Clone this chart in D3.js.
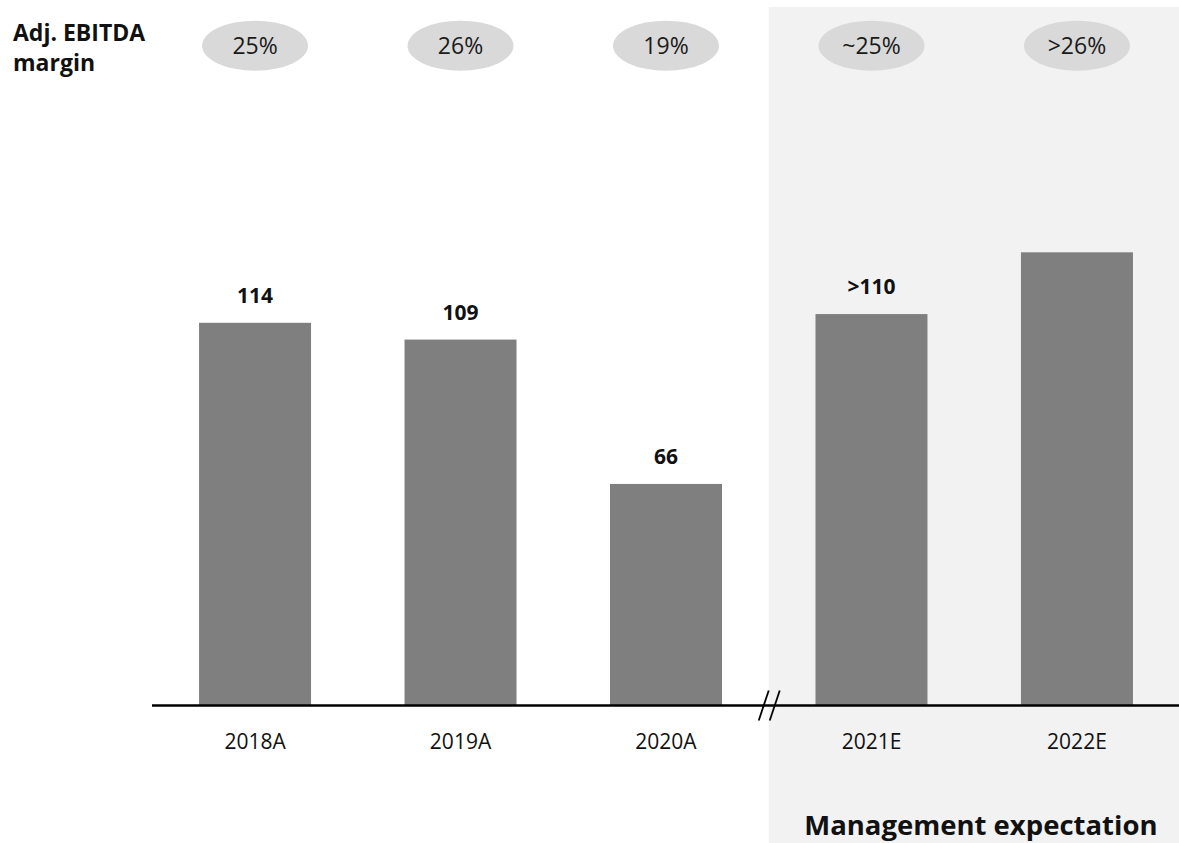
<!DOCTYPE html>
<html>
<head>
<meta charset="utf-8">
<script src="https://cdn.jsdelivr.net/npm/d3@7"></script>
<style>
  body { margin: 0; background: #fff; }
  svg { display: block; font-family: "Open Sans", sans-serif; }
</style>
</head>
<body>
<svg id="chart" width="1179" height="843"></svg>
<script>
// data
var years = ["2018A", "2019A", "2020A", "2021E", "2022E"];
var ebitda = [114, 109, 66, 116.6, 135];
var barLabels = ["114", "109", "66", ">110", ""];
var margins = ["25%", "26%", "19%", "~25%", ">26%"];
var forecastFrom = "2021E";

var svg = d3.select("#chart"),
  width = 1179,
  height = 843;

var x = d3.scaleBand()
  .domain(years)
  .range([152, 1180])
  .paddingInner(0.455)
  .paddingOuter(0.229);

var y = d3.scaleLinear()
  .domain([0, 135])
  .range([705.5, 252.3]);

// break position between actuals and estimates
var iF = years.indexOf(forecastFrom);
var breakX = (x(years[iF - 1]) + x.bandwidth() + x(years[iF])) / 2;

// shaded forecast area
svg.append("rect")
  .attr("x", breakX)
  .attr("y", 7)
  .attr("width", width - breakX)
  .attr("height", height - 7)
  .attr("fill", "#f2f2f2");

// margin row
svg.append("text")
  .attr("x", 13)
  .attr("y", 41)
  .attr("font-weight", "bold")
  .attr("font-size", 23)
  .attr("fill", "#111")
  .selectAll("tspan")
  .data(["Adj. EBITDA", "margin"])
  .enter().append("tspan")
  .attr("x", 13)
  .attr("dy", function (d, i) { return i ? 30 : 0; })
  .text(function (d) { return d; });

var pill = svg.append("g").selectAll("g")
  .data(margins)
  .enter().append("g")
  .attr("transform", function (d, i) { return "translate(" + (x(years[i]) + x.bandwidth() / 2) + ",45.7)"; });

pill.append("ellipse")
  .attr("rx", 53)
  .attr("ry", 25)
  .attr("fill", "#d9d9d9");

pill.append("text")
  .attr("y", 8)
  .attr("text-anchor", "middle")
  .attr("font-size", 23)
  .attr("fill", "#1a1a1a")
  .text(function (d) { return d; });

// bars
svg.append("g").selectAll("rect")
  .data(ebitda)
  .enter().append("rect")
  .attr("x", function (d, i) { return x(years[i]); })
  .attr("y", function (d) { return y(d); })
  .attr("width", x.bandwidth())
  .attr("height", function (d) { return y(0) - y(d); })
  .attr("fill", "#7f7f7f");

svg.append("g").selectAll("text")
  .data(ebitda)
  .enter().append("text")
  .attr("x", function (d, i) { return x(years[i]) + x.bandwidth() / 2; })
  .attr("y", function (d) { return y(d) - 20; })
  .attr("text-anchor", "middle")
  .attr("font-weight", "bold")
  .attr("font-size", 21)
  .attr("fill", "#111")
  .text(function (d, i) { return barLabels[i]; });

// x axis
var axis = svg.append("g")
  .attr("transform", "translate(0," + y(0) + ")")
  .call(d3.axisBottom(x).tickSize(0).tickPadding(29));

axis.select(".domain")
  .attr("d", "M152,0H" + width)
  .attr("stroke", "#000")
  .attr("stroke-width", 2.5);

axis.selectAll(".tick text")
  .attr("font-family", "'Open Sans', sans-serif")
  .attr("font-size", 21)
  .attr("fill", "#111");

// axis break
svg.append("g").selectAll("line")
  .data([-5, 6])
  .enter().append("line")
  .attr("x1", function (d) { return breakX + d - 5; })
  .attr("y1", y(0) + 15)
  .attr("x2", function (d) { return breakX + d + 5; })
  .attr("y2", y(0) - 15)
  .attr("stroke", "#000")
  .attr("stroke-width", 1.8);

svg.append("text")
  .attr("x", (breakX + width) / 2 + 7)
  .attr("y", 835)
  .attr("text-anchor", "middle")
  .attr("font-weight", "bold")
  .attr("font-size", 27.5)
  .attr("fill", "#111")
  .text("Management expectation");
</script>
</body>
</html>
